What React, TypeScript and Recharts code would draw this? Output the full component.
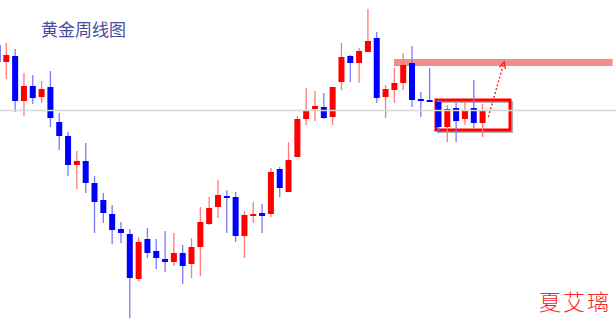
import { ComposedChart, Bar, XAxis, YAxis, ReferenceLine, ReferenceArea } from 'recharts';

// 黄金周线 - weekly candles (red = up, blue = down)
const opens = [1455, 1438, 1444, 1399, 1414, 1403, 1413, 1378, 1364, 1335, 1339, 1317, 1300, 1286, 1271, 1266, 1221, 1261, 1249, 1241, 1238, 1247, 1236, 1253, 1276, 1293, 1304, 1303, 1264, 1284, 1287, 1286, 1331, 1308, 1343, 1381, 1391, 1393, 1383, 1418, 1444, 1437, 1448, 1462, 1403, 1410, 1417, 1437, 1401, 1400, 1398, 1373, 1392, 1381, 1392, 1377];
const closes = [1438, 1445, 1399, 1414, 1402, 1411, 1382, 1364, 1335, 1339, 1317, 1298, 1287, 1270, 1267, 1222, 1258, 1247, 1242, 1238, 1247, 1234, 1253, 1278, 1292, 1305, 1302, 1264, 1285, 1286, 1284, 1328, 1312, 1340, 1381, 1389, 1394, 1382, 1413, 1443, 1437, 1449, 1459, 1402, 1411, 1417, 1435, 1400, 1399, 1398, 1373, 1391, 1379, 1390, 1377, 1389];
const highs = [1458, 1457, 1451, 1427, 1425, 1419, 1429, 1387, 1368, 1349, 1357, 1324, 1307, 1295, 1278, 1271, 1263, 1272, 1261, 1269, 1267, 1255, 1262, 1293, 1303, 1320, 1310, 1308, 1289, 1298, 1296, 1332, 1333, 1358, 1384, 1412, 1409, 1407, 1413, 1457, 1445, 1452, 1491, 1468, 1415, 1432, 1447, 1454, 1408, 1432, 1400, 1395, 1397, 1398, 1420, 1396];
const lows = [1435, 1421, 1388, 1384, 1396, 1397, 1373, 1350, 1324, 1311, 1307, 1267, 1277, 1256, 1257, 1182, 1219, 1242, 1231, 1228, 1234, 1216, 1222, 1224, 1275, 1282, 1267, 1258, 1242, 1277, 1267, 1283, 1303, 1308, 1343, 1375, 1379, 1381, 1375, 1410, 1418, 1417, 1448, 1397, 1382, 1397, 1410, 1393, 1383, 1398, 1367, 1358, 1358, 1375, 1372, 1363];

const data = opens.map((o, i) => ({
  week: i + 1,
  open: o,
  close: closes[i],
  high: highs[i],
  low: lows[i],
}));

const Candle = (props: any) => {
  const { x, y, width, height, payload } = props;
  if (!payload) return null;
  const top = Math.min(y, y + height);
  const h = Math.abs(height);
  const range = payload.high - payload.low || 1;
  const ppu = h / range;
  const up = payload.close >= payload.open;
  const bodyTop = top + (payload.high - Math.max(payload.open, payload.close)) * ppu;
  let bodyH = Math.abs(payload.close - payload.open) * ppu;
  if (bodyH < 2) bodyH = 2;
  const cx = x + width / 2;
  const body = up ? '#ff0000' : '#0000ff';
  const wick = up ? '#ff7a7a' : '#7a7aff';
  return (
    <g>
      <line x1={cx} x2={cx} y1={top} y2={top + h} stroke={wick} strokeWidth={1.3} />
      <rect x={x} y={bodyTop} width={width} height={bodyH} fill={body} />
    </g>
  );
};

const Arrow = (props: any) => {
  const { x1, y1, x2, y2 } = props;
  if (x1 == null) return null;
  const ang = Math.atan2(y2 - y1, x2 - x1);
  const len = 7;
  const p1 = [x2 - len * Math.cos(ang - 0.45), y2 - len * Math.sin(ang - 0.45)];
  const p2 = [x2 - len * Math.cos(ang + 0.45), y2 - len * Math.sin(ang + 0.45)];
  return (
    <g>
      <line x1={x1} y1={y1} x2={x2} y2={y2} stroke="#ff2020" strokeWidth={1.4} strokeDasharray="2 2" />
      <polyline points={`${p1[0]},${p1[1]} ${x2},${y2} ${p2[0]},${p2[1]}`} fill="none" stroke="#ff2020" strokeWidth={1.4} />
    </g>
  );
};

export default function App() {
  return (
    <div style={{ position: 'absolute', left: 0, top: 0, width: 616, height: 324, background: '#fff' }}>
      <ComposedChart width={616} height={324} data={data} margin={{ top: 0, right: 0, bottom: 0, left: 0 }}>
        <XAxis dataKey="week" type="number" domain={[1.238, 71.08]} allowDataOverflow hide />
        <YAxis type="number" domain={[1176, 1500]} allowDataOverflow hide />
        <ReferenceLine y={1389.5} stroke="#d8d8d8" strokeWidth={1.5} />
        <Bar
          dataKey={(d: any) => [d.low, d.high]}
          barSize={6}
          shape={Candle}
          isAnimationActive={false}
        />
        <ReferenceArea x1={45.9} x2={70.7} y1={1434} y2={1441} fill="#f07070" fillOpacity={0.8} stroke="none" />
        <ReferenceArea x1={50.9} x2={59.3} y1={1368} y2={1398} fill="none" stroke="#b0b0b0" strokeWidth={2} />
        <ReferenceArea x1={50.67} x2={59.06} y1={1370} y2={1400} fill="none" stroke="#ff0000" strokeWidth={3} />
        <ReferenceLine segment={[{ x: 56.6, y: 1383 }, { x: 58.4, y: 1438 }]} shape={Arrow} />
      </ComposedChart>
      <div style={{ position: 'absolute', left: 41, top: 20, fontSize: 17, lineHeight: 1, color: '#4b4ba3', fontFamily: '"Noto Sans CJK SC", serif' }}>
        黄金周线图
      </div>
      <div style={{ position: 'absolute', left: 539, top: 289, fontSize: 22, lineHeight: 1, letterSpacing: 2, color: '#ff2020', fontFamily: '"Noto Sans CJK SC", serif', fontWeight: 300 }}>
        夏艾璃
      </div>
    </div>
  );
}
